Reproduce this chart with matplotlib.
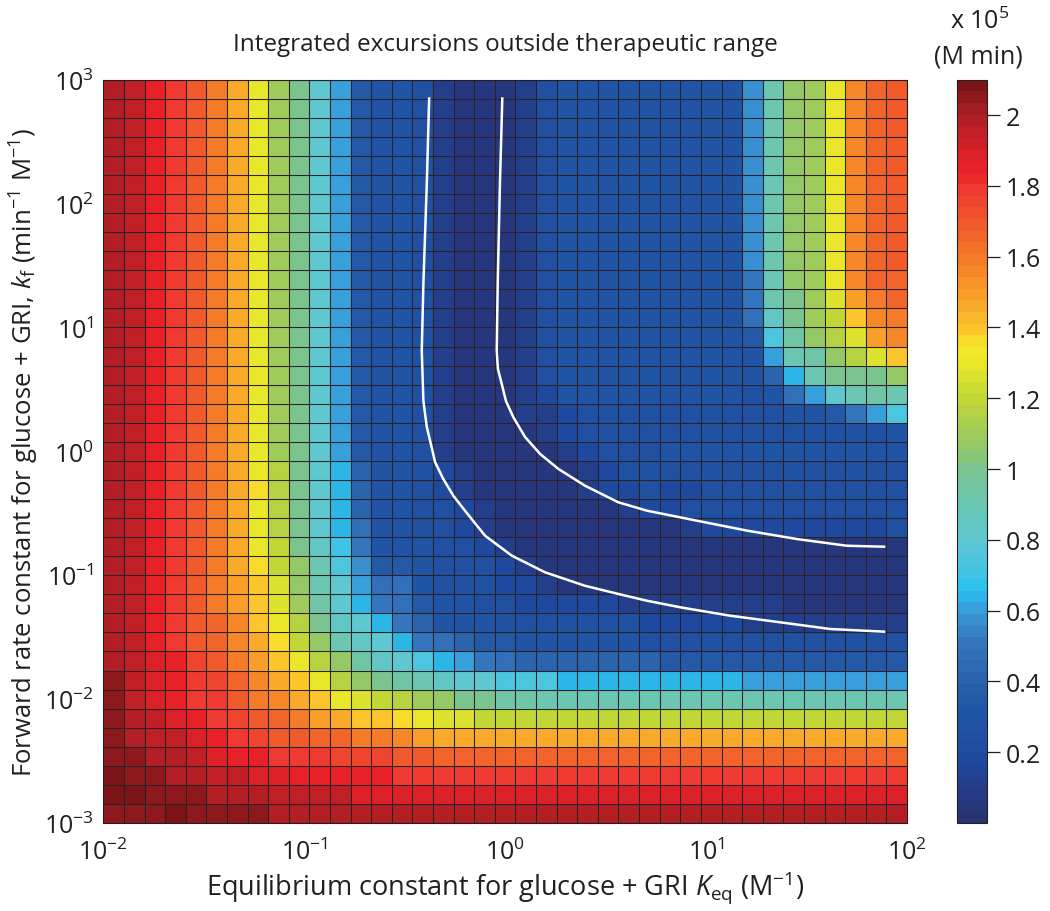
import numpy as np
import matplotlib
matplotlib.use("Agg")
import matplotlib.pyplot as plt
from matplotlib.colors import LinearSegmentedColormap

plt.rcParams['font.family'] = ['Open Sans', 'DejaVu Sans']
plt.rcParams['mathtext.fontset'] = 'custom'
plt.rcParams['mathtext.rm'] = 'Open Sans'
plt.rcParams['mathtext.it'] = 'Open Sans:italic'
plt.rcParams['mathtext.default'] = 'regular'

# ---------------- data ----------------
# Cell values are coded one character per cell (x 1e5 M min); LEVEL_CODES -> LEVEL_VALUES
LEVEL_CODES = "0123456789abcdefghijklmnopqrstuvwxyzABCDE"
LEVEL_VALUES = [0.04, 0.10, 0.17, 0.23, 0.30, 0.36, 0.41, 0.46, 0.52, 0.56,
                0.60, 0.65, 0.70, 0.75, 0.80, 0.85, 0.90, 0.95, 1.00, 1.05,
                1.10, 1.15, 1.20, 1.25, 1.30, 1.35, 1.40, 1.45, 1.50, 1.55,
                1.60, 1.65, 1.70, 1.75, 1.80, 1.85,
                1.90, 1.95, 2.00, 2.04, 2.07]

# rows listed from top (kf = 1e3) to bottom (kf = 1e-3); columns from Keq = 1e-2 to 1e2
HEATMAP_ROWS = [
    "CBzywurokiea54" "4310001344444" "44449gjkotvw",
    "CBzywurokiea54" "4310001344444" "44449gjkotvw",
    "CBzywurokiea54" "4310001344444" "44449gjkotvw",
    "CBzywurokiea54" "4310001344444" "44449gjkotvw",
    "CBzywurokiea54" "4310001344444" "44449gjkotvw",
    "CBzywurokiea54" "4310001344444" "44449gjkotvw",
    "CBzywurokiea54" "4310001344444" "44449gjkotvw",
    "CBzywurokiea54" "4310001344444" "44449gjkotvw",
    "CBzywurokiea54" "4310001344444" "44449gjkotvw",
    "CBzywurokiea54" "4310001344444" "44449gjkotvw",
    "CBzywurokiea54" "4310001344444" "44448gjkotvv",
    "CBzywurokiea54" "4310001344444" "44448giknsuv",
    "CBzywurokiea54" "4310001344444" "44447fikmqtu",
    "CBzywurokiea54" "4310001344444" "44445dhjlnst",
    "CBzywurokiea54" "4310001344444" "44444aghjlnq",
    "CBzywurokiea54" "4310001344444" "444446bgiiij",
    "CBzywurokiea54" "4310001244444" "4444347aeghg",
    "CBzywurokiea54" "4310001123333" "3333334458ad",
    "CBzywurokiea54" "4310000123333" "333333333334",
    "CBzywurokiea54" "4310000012333" "444444444444",
    "CBzywurolieb64" "4321000001233" "333333333333",
    "CBzywurplieb64" "4321000001223" "223333333333",
    "CBzywurolieb64" "4332100000012" "233333333333",
    "CBzywurolieb74" "4332100000000" "012222222223",
    "CBzywuromifc84" "4433210000000" "000000000000",
    "CBzywurpmjgd95" "5433321000000" "000000000000",
    "CBzywusqnjgea7" "7433322100000" "000000000000",
    "CBzywusqnkheb8" "7544332222211" "111111000000",
    "CBzywvtqolifeb" "8644433333332" "222211111111",
    "CBzywvtrpmjgfe" "b876554444443" "333333333333",
    "CBAzxwusqoljhf" "edba876666666" "555555555555",
    "DBAzyxvtrqolji" "hgfeedddbbbbb" "bbbbaaaaaaaa",
    "DBAzyywutrqonm" "lkjiihhgggggg" "gggggggggggg",
    "DCBAzyxwvusrqq" "ponnmmmmmmmmm" "mmmmmmmmmmmm",
    "DCBBAzyxwwvvuu" "tsrrrrrrrrrrr" "rrrrrrrrrrrr",
    "DDCCBAzzyyyxxx" "wwvvvvvvvvvvv" "vvvvvvvvvvvv",
    "EDDCCBBAAzzzzz" "yyyyyyyyyyyyy" "yyyyyyyyyyyy",
    "EEDDDCCCBBBBAA" "AAAAAAAAAAAAA" "AAAAAAAAAAAA",
    "DDDEDDDDCCCCCC" "CCCCCCCCCCCCC" "CCCCCCCCCCCC",
]

X_TICKS = [1e-2, 1e-1, 1e0, 1e1, 1e2]
X_TICK_LABELS = [r'$10^{-2}$', r'$10^{-1}$', r'$10^{0}$', r'$10^{1}$', r'$10^{2}$']
Y_TICKS = [1e-3, 1e-2, 1e-1, 1e0, 1e1, 1e2, 1e3]
Y_TICK_LABELS = [r'$10^{-3}$', r'$10^{-2}$', r'$10^{-1}$', r'$10^{0}$',
                 r'$10^{1}$', r'$10^{2}$', r'$10^{3}$']
CB_TICKS = [0.2, 0.4, 0.6, 0.8, 1.0, 1.2, 1.4, 1.6, 1.8, 2.0]
CB_TICK_LABELS = ['0.2', '0.4', '0.6', '0.8', '1', '1.2', '1.4', '1.6', '1.8', '2']

# white boundary curves (log10 Keq, log10 kf)
LEFT_CURVE_LOG_KEQ = [-0.378, -0.390, -0.407, -0.415, -0.407, -0.390, -0.358, -0.349,
                      -0.308, -0.258, -0.200, -0.100, 0.033, 0.198, 0.397, 0.563,
                      0.706, 0.872, 1.121, 1.369, 1.618, 1.892]
LEFT_CURVE_LOG_KF = [2.858, 2.158, 1.351, 0.812, 0.409, 0.197, -0.021, -0.086,
                     -0.223, -0.358, -0.479, -0.681, -0.842, -0.976, -1.085, -1.151,
                     -1.206, -1.259, -1.327, -1.380, -1.434, -1.456]
RIGHT_CURVE_LOG_KEQ = [-0.014, -0.026, -0.037, -0.042, -0.036, -0.017, 0.004, 0.041,
                       0.099, 0.174, 0.265, 0.397, 0.563, 0.706, 0.955, 1.204,
                       1.453, 1.701, 1.892]
RIGHT_CURVE_LOG_KF = [2.858, 2.158, 1.351, 0.812, 0.665, 0.544, 0.406, 0.275,
                      0.116, -0.021, -0.142, -0.277, -0.411, -0.479, -0.560, -0.640,
                      -0.708, -0.762, -0.770]

# ---------------- colormap ----------------
VMIN, VMAX = 0.0, 2.1
CMAP_ANCHORS = [
    (0.00, '#283472'), (0.05, '#263884'), (0.10, '#233f8c'), (0.17, '#1f4aa0'),
    (0.23, '#1f50a2'), (0.30, '#2055a5'), (0.38, '#2a5fa9'), (0.45, '#2f6cb6'),
    (0.50, '#3476be'), (0.55, '#3a88cc'), (0.60, '#379fdb'), (0.65, '#27c2ef'),
    (0.70, '#40c4e6'), (0.75, '#52c5dc'), (0.80, '#5ec7cf'), (0.85, '#64c6c0'),
    (0.90, '#6bc6b2'), (0.95, '#73c4a0'), (1.00, '#7bc490'), (1.05, '#8ec76c'),
    (1.10, '#9fcb5a'), (1.15, '#b0d048'), (1.20, '#c1d736'), (1.25, '#d5e02e'),
    (1.30, '#eae72a'), (1.35, '#f6e82c'), (1.40, '#fcc52b'), (1.45, '#fbb02a'),
    (1.50, '#f99f29'), (1.55, '#f68d28'), (1.60, '#f47c28'), (1.65, '#f36b29'),
    (1.70, '#f15a2b'), (1.75, '#ef4a2e'), (1.80, '#ee3a30'), (1.85, '#ec2227'),
    (1.90, '#dc2027'), (1.95, '#c61f26'), (2.00, '#b21e24'), (2.05, '#981b1f'),
    (2.10, '#7a1416'),
]
cmap = LinearSegmentedColormap.from_list(
    'excursion', [((v - VMIN) / (VMAX - VMIN), c) for v, c in CMAP_ANCHORS], N=64)

# ---------------- decode ----------------
lookup = dict(zip(LEVEL_CODES, LEVEL_VALUES))
for r in HEATMAP_ROWS:
    if len(r) != 39:
        raise ValueError("bad row length %d: %s" % (len(r), r))
Z = np.array([[lookup[ch] for ch in row] for row in HEATMAP_ROWS])[::-1]
ny, nx = Z.shape
x_edges = np.logspace(-2, 2, nx + 1)
y_edges = np.logspace(-3, 3, ny + 1)

# ---------------- figure ----------------
TXT = '#231f20'
W, H = 1050, 912
fig = plt.figure(figsize=(W / 100, H / 100), dpi=100)
left, right, top, bottom = 103.3, 907.0, 80.7, 824.0
ax = fig.add_axes([left / W, 1 - bottom / H, (right - left) / W, (bottom - top) / H])

mesh = ax.pcolormesh(x_edges, y_edges, Z, cmap=cmap, vmin=VMIN, vmax=VMAX,
                     edgecolors='#2a2326', linewidth=0.75, antialiased=True)
ax.set_xscale('log')
ax.set_yscale('log')
ax.set_xlim(1e-2, 1e2)
ax.set_ylim(1e-3, 1e3)

ax.plot(10 ** np.array(LEFT_CURVE_LOG_KEQ), 10 ** np.array(LEFT_CURVE_LOG_KF),
        color='white', lw=1.8, solid_capstyle='butt', solid_joinstyle='round')
ax.plot(10 ** np.array(RIGHT_CURVE_LOG_KEQ), 10 ** np.array(RIGHT_CURVE_LOG_KF),
        color='white', lw=1.8, solid_capstyle='butt', solid_joinstyle='round')

ax.set_xticks(X_TICKS)
ax.set_xticklabels(X_TICK_LABELS)
ax.set_yticks(Y_TICKS)
ax.set_yticklabels(Y_TICK_LABELS)
ax.minorticks_off()
ax.tick_params(axis='both', length=0, labelsize=18, colors=TXT)
ax.tick_params(axis='x', pad=11)
ax.tick_params(axis='y', pad=7)
for s in ax.spines.values():
    s.set_color(TXT)
    s.set_linewidth(0.8)

ax.set_xlabel(r'Equilibrium constant for glucose + GRI $\mathit{K}_{\mathregular{eq}}$ (M$^{-1}$)',
              fontsize=19.5, color=TXT, va='center')
ax.xaxis.set_label_coords(0.5, (bottom - 888) / (bottom - top))
ax.set_ylabel(r'Forward rate constant for glucose + GRI, $\mathit{k}_{\mathregular{f}}$ (min$^{-1}$ M$^{-1}$)',
              fontsize=18.5, color=TXT, va='center')
ax.yaxis.set_label_coords((24 - left) / (right - left), 0.5)

fig.text((left + right) / 2 / W, 1 - 45 / H, 'Integrated excursions outside therapeutic range',
         ha='center', va='center', fontsize=17.5, color=TXT)

# colorbar
cb_left, cb_right = 957.3, 986.7
cax = fig.add_axes([cb_left / W, 1 - bottom / H, (cb_right - cb_left) / W, (bottom - top) / H])
cb = fig.colorbar(mesh, cax=cax, ticks=CB_TICKS)
cb.set_ticklabels(CB_TICK_LABELS)
cb.ax.tick_params(length=9, width=0.9, pad=5, labelsize=18, colors=TXT)
cb.ax.minorticks_off()
cb.outline.set_edgecolor(TXT)
cb.outline.set_linewidth(0.8)

fig.text(980 / W, 1 - 22 / H, r'x 10$^5$', ha='center', va='center', fontsize=18, color=TXT)
fig.text(978 / W, 1 - 57 / H, '(M min)', ha='center', va='center', fontsize=18, color=TXT)

fig.savefig('out.png', dpi=100)
